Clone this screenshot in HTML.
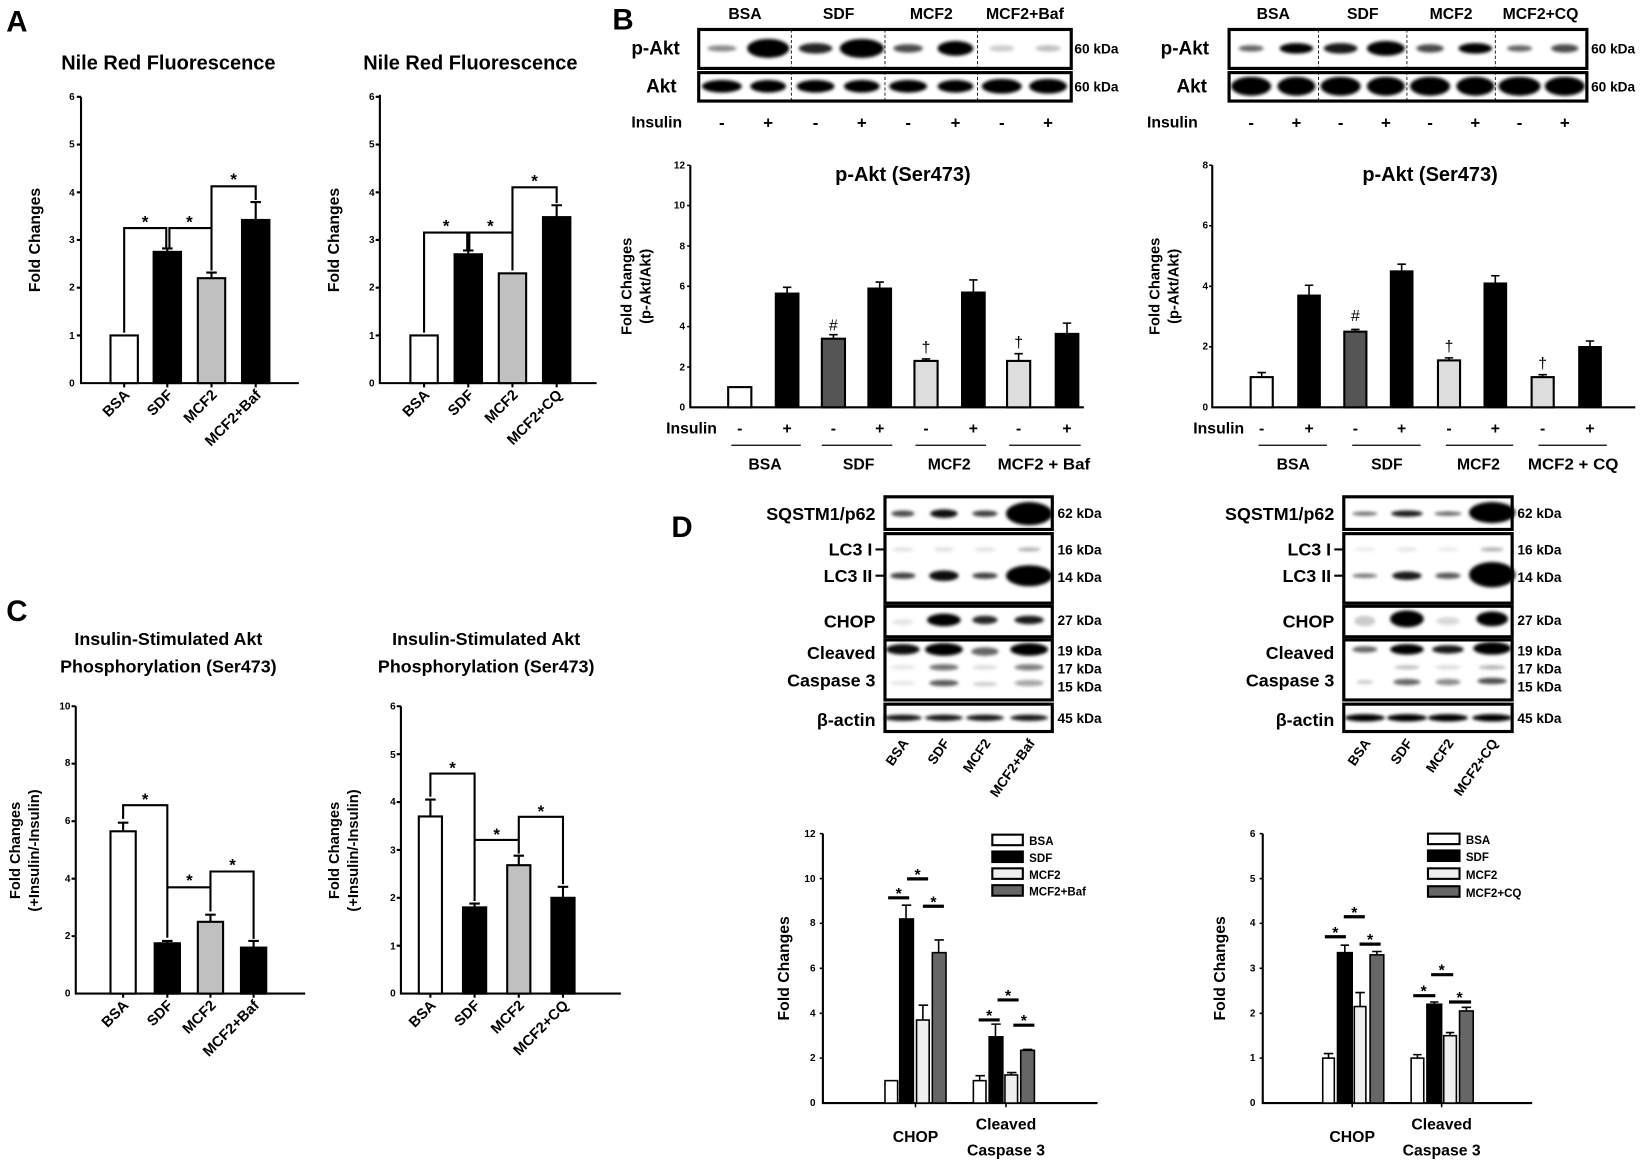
<!DOCTYPE html>
<html><head><meta charset="utf-8"><style>
html,body{margin:0;padding:0;background:#fff;}
svg{display:block;}
text{font-family:"Liberation Sans",sans-serif;fill:#000;}
.b{font-weight:bold;}
.n{font-family:"Liberation Sans Narrow","Liberation Sans",sans-serif;font-weight:bold;}
.t{font-size:9.5px;font-weight:bold;}
</style></head><body>
<svg width="1650" height="1162" viewBox="0 0 1568 1104" preserveAspectRatio="none" xmlns="http://www.w3.org/2000/svg">
<defs><filter id="bl" x="-50%" y="-100%" width="200%" height="300%"><feGaussianBlur stdDeviation="1.6"/></filter></defs>

<!-- ============ PANEL A LEFT ============ -->
<text x="6" y="30" class="b" font-size="28">A</text>
<text x="160" y="66" class="b" font-size="19" text-anchor="middle">Nile Red Fluorescence</text>
<text transform="translate(38,228) rotate(-90)" class="b" font-size="15" text-anchor="middle">Fold Changes</text>
<g class="t" text-anchor="end">
<text x="71" y="367">0</text><text x="71" y="322">1</text><text x="71" y="276">2</text><text x="71" y="231">3</text><text x="71" y="186">4</text><text x="71" y="140">5</text><text x="71" y="95">6</text>
</g>
<g stroke="#000" stroke-width="2" fill="none">
<path d="M77 92V364H284"/>
<path d="M73 92H77M73 137.3H77M73 182.7H77M73 228H77M73 273.3H77M73 318.7H77"/>
<path d="M118 364v4M159 364v4M201 364v4M243 364v4"/>
<rect x="105" y="318.7" width="26" height="45.3" fill="#fff"/>
<rect x="146" y="239.3" width="26" height="124.7" fill="#000"/>
<rect x="188" y="264.3" width="26" height="99.7" fill="#c0c0c0"/>
<rect x="230" y="209" width="26" height="155" fill="#000"/>
<path d="M159 239V236M154 236H164M201 264V259M196 259H206M243 209V192M238 192H248"/>
<path d="M118 316V216.7H158V237M161 237V216.7H201V257M201 216.7V177H243V190"/>
</g>
<g class="b" font-size="16" text-anchor="middle"><text x="138" y="216">*</text><text x="180" y="216">*</text><text x="222" y="176">*</text></g>
<g class="b" font-size="14" text-anchor="end">
<text transform="translate(124,376) rotate(-45)">BSA</text>
<text transform="translate(165,376) rotate(-45)">SDF</text>
<text transform="translate(207,376) rotate(-45)">MCF2</text>
<text transform="translate(249,376) rotate(-45)">MCF2+Baf</text>
</g>

<!-- ============ PANEL A RIGHT ============ -->
<text x="447" y="66" class="b" font-size="19" text-anchor="middle">Nile Red Fluorescence</text>
<text transform="translate(322,228) rotate(-90)" class="b" font-size="15" text-anchor="middle">Fold Changes</text>
<g class="t" text-anchor="end">
<text x="356" y="367">0</text><text x="356" y="322">1</text><text x="356" y="276">2</text><text x="356" y="231">3</text><text x="356" y="186">4</text><text x="356" y="140">5</text><text x="356" y="95">6</text>
</g>
<g stroke="#000" stroke-width="2" fill="none">
<path d="M361 90V364H567"/>
<path d="M357 92H361M357 137.3H361M357 182.7H361M357 228H361M357 273.3H361M357 318.7H361"/>
<path d="M403 364v4M445 364v4M487 364v4M529 364v4"/>
<rect x="390" y="318.7" width="26" height="45.3" fill="#fff"/>
<rect x="432" y="241.6" width="26" height="122.4" fill="#000"/>
<rect x="474" y="259.7" width="26" height="104.3" fill="#c0c0c0"/>
<rect x="516" y="206.3" width="26" height="157.7" fill="#000"/>
<path d="M445 241V238M440 238H450M529 206V195M524 195H534"/>
<path d="M403 316V221H444V239M446 239V221H487V257M487 221V178H529V193"/>
</g>
<g class="b" font-size="16" text-anchor="middle"><text x="424" y="220">*</text><text x="466" y="220">*</text><text x="508" y="177">*</text></g>
<g class="b" font-size="14" text-anchor="end">
<text transform="translate(409,376) rotate(-45)">BSA</text>
<text transform="translate(451,376) rotate(-45)">SDF</text>
<text transform="translate(493,376) rotate(-45)">MCF2</text>
<text transform="translate(535,376) rotate(-45)">MCF2+CQ</text>
</g>

<!-- ============ PANEL B BLOTS LEFT ============ -->
<text x="582" y="28" class="b" font-size="28">B</text>
<g class="n" font-size="15" text-anchor="middle">
<text x="708" y="18">BSA</text><text x="797" y="18">SDF</text><text x="885" y="18">MCF2</text><text x="974" y="18" textLength="74" lengthAdjust="spacingAndGlyphs">MCF2+Baf</text>
</g>
<g filter="url(#bl)" fill="#000">
<ellipse cx="686" cy="46" rx="14" ry="3" opacity=".45"/>
<ellipse cx="730" cy="46" rx="20" ry="9"/>
<ellipse cx="775" cy="46" rx="16" ry="5" opacity=".85"/>
<ellipse cx="819" cy="46" rx="21" ry="9"/>
<ellipse cx="863" cy="46" rx="14" ry="4" opacity=".7"/>
<ellipse cx="908" cy="46" rx="17" ry="7"/>
<ellipse cx="952" cy="46" rx="12" ry="3" opacity=".2"/>
<ellipse cx="996" cy="46" rx="12" ry="3" opacity=".25"/>
<ellipse cx="686" cy="82" rx="19" ry="6"/><ellipse cx="730" cy="82" rx="17" ry="6"/>
<ellipse cx="775" cy="82" rx="18" ry="6"/><ellipse cx="819" cy="82" rx="17" ry="6"/>
<ellipse cx="863" cy="82" rx="18" ry="6"/><ellipse cx="908" cy="82" rx="17" ry="6"/>
<ellipse cx="952" cy="82" rx="19" ry="7"/><ellipse cx="996" cy="82" rx="18" ry="7"/>
</g>
<g stroke="#000" fill="none">
<rect x="664" y="28" width="354" height="37" stroke-width="3"/>
<rect x="664" y="69" width="354" height="27" stroke-width="3"/>
<path d="M752 28V96M841 28V96M929 28V96" stroke-width="0.8" stroke-dasharray="3,2"/>
</g>
<g class="n" font-size="18"><text x="600" y="52">p-Akt</text><text x="614" y="88">Akt</text></g>
<g class="n" font-size="13"><text x="1021" y="51">60 kDa</text><text x="1021" y="87">60 kDa</text></g>
<g class="n" font-size="15"><text x="600" y="121">Insulin</text></g>
<g class="b" font-size="16" text-anchor="middle">
<text x="686" y="122">-</text><text x="730" y="122">+</text><text x="775" y="122">-</text><text x="819" y="122">+</text><text x="863" y="122">-</text><text x="908" y="122">+</text><text x="952" y="122">-</text><text x="996" y="122">+</text>
</g>

<!-- ============ PANEL B BLOTS RIGHT ============ -->
<g class="n" font-size="15" text-anchor="middle">
<text x="1210" y="18">BSA</text><text x="1295" y="18">SDF</text><text x="1379" y="18">MCF2</text><text x="1464" y="18" textLength="72" lengthAdjust="spacingAndGlyphs">MCF2+CQ</text>
</g>
<g filter="url(#bl)" fill="#000">
<ellipse cx="1189" cy="46" rx="12" ry="3" opacity=".6"/>
<ellipse cx="1232" cy="46" rx="16" ry="5"/>
<ellipse cx="1274" cy="46" rx="16" ry="5" opacity=".9"/>
<ellipse cx="1317" cy="46" rx="18" ry="7"/>
<ellipse cx="1359" cy="46" rx="13" ry="4" opacity=".7"/>
<ellipse cx="1402" cy="46" rx="16" ry="5"/>
<ellipse cx="1444" cy="46" rx="12" ry="3" opacity=".6"/>
<ellipse cx="1487" cy="46" rx="13" ry="4" opacity=".7"/>
<ellipse cx="1189" cy="82" rx="19" ry="9"/><ellipse cx="1232" cy="82" rx="18" ry="9"/>
<ellipse cx="1274" cy="82" rx="19" ry="9"/><ellipse cx="1317" cy="82" rx="18" ry="9"/>
<ellipse cx="1359" cy="82" rx="19" ry="9"/><ellipse cx="1402" cy="82" rx="18" ry="9"/>
<ellipse cx="1444" cy="82" rx="20" ry="9"/><ellipse cx="1487" cy="82" rx="19" ry="9"/>
</g>
<g stroke="#000" fill="none">
<rect x="1168" y="28" width="340" height="37" stroke-width="3"/>
<rect x="1168" y="69" width="340" height="27" stroke-width="3"/>
<path d="M1253 28V96M1337 28V96M1421 28V96" stroke-width="0.8" stroke-dasharray="3,2"/>
</g>
<g class="n" font-size="18"><text x="1103" y="52">p-Akt</text><text x="1118" y="88">Akt</text></g>
<g class="n" font-size="13"><text x="1512" y="51">60 kDa</text><text x="1512" y="87">60 kDa</text></g>
<g class="n" font-size="15"><text x="1090" y="121">Insulin</text></g>
<g class="b" font-size="16" text-anchor="middle">
<text x="1189" y="122">-</text><text x="1232" y="122">+</text><text x="1274" y="122">-</text><text x="1317" y="122">+</text><text x="1359" y="122">-</text><text x="1402" y="122">+</text><text x="1444" y="122">-</text><text x="1487" y="122">+</text>
</g>

<!-- ============ PANEL B CHART LEFT ============ -->
<text x="858" y="172" class="n" font-size="19" text-anchor="middle">p-Akt (Ser473)</text>
<text transform="translate(600,272) rotate(-90)" class="b" font-size="14" text-anchor="middle">Fold Changes</text>
<text transform="translate(618,272) rotate(-90)" class="b" font-size="14" text-anchor="middle">(p-Akt/Akt)</text>
<g class="t" text-anchor="end">
<text x="651" y="390">0</text><text x="651" y="352">2</text><text x="651" y="313">4</text><text x="651" y="275">6</text><text x="651" y="237">8</text><text x="651" y="198">10</text><text x="651" y="160">12</text>
</g>
<g stroke="#000" stroke-width="1.5" fill="none">
<path d="M656 157V387H1030" stroke-width="2"/>
<path d="M653 157H656M653 195.3H656M653 233.7H656M653 272H656M653 310.3H656M653 348.7H656"/>
<rect x="692" y="367.8" width="22" height="19.2" fill="#fff" stroke-width="2"/>
<rect x="737" y="278.7" width="22" height="108.3" fill="#000"/>
<rect x="781" y="321.8" width="22" height="65.2" fill="#555" stroke-width="2"/>
<rect x="825" y="273.9" width="22" height="113.1" fill="#000"/>
<rect x="869" y="342.9" width="22" height="44.1" fill="#ddd" stroke-width="2"/>
<rect x="914" y="277.7" width="22" height="109.3" fill="#000"/>
<rect x="957" y="342.9" width="22" height="44.1" fill="#ddd" stroke-width="2"/>
<rect x="1003" y="317" width="22" height="70" fill="#000"/>
<path d="M748 279V273M744 273H752M792 322V318M788 318H796M836 274V268M832 268H840M880 343V341M876 341H884M925 278V266M921 266H929M968 343V336M964 336H972M1014 317V307M1010 307H1018"/>
<path d="M695 423H761M781 423H848M870 423H937M959 423H1027" stroke-width="1.2"/>
</g>
<g font-size="15" text-anchor="middle"><text x="792" y="314">#</text><text x="880" y="335">†</text><text x="968" y="330">†</text></g>
<g class="n" font-size="15"><text x="633" y="412">Insulin</text></g>
<g class="b" font-size="15" text-anchor="middle">
<text x="703" y="412">-</text><text x="748" y="412">+</text><text x="792" y="412">-</text><text x="836" y="412">+</text><text x="880" y="412">-</text><text x="925" y="412">+</text><text x="968" y="412">-</text><text x="1014" y="412">+</text>
</g>
<g class="n" font-size="15" text-anchor="middle">
<text x="727" y="446">BSA</text><text x="816" y="446">SDF</text><text x="902" y="446">MCF2</text><text x="992" y="446" textLength="88" lengthAdjust="spacingAndGlyphs">MCF2 + Baf</text>
</g>

<!-- ============ PANEL B CHART RIGHT ============ -->
<text x="1359" y="172" class="n" font-size="19" text-anchor="middle">p-Akt (Ser473)</text>
<text transform="translate(1102,272) rotate(-90)" class="b" font-size="14" text-anchor="middle">Fold Changes</text>
<text transform="translate(1120,272) rotate(-90)" class="b" font-size="14" text-anchor="middle">(p-Akt/Akt)</text>
<g class="t" text-anchor="end">
<text x="1148" y="390">0</text><text x="1148" y="332">2</text><text x="1148" y="275">4</text><text x="1148" y="217">6</text><text x="1148" y="160">8</text>
</g>
<g stroke="#000" stroke-width="1.5" fill="none">
<path d="M1152 157V387H1554" stroke-width="2"/>
<path d="M1149 157H1152M1149 214.5H1152M1149 272H1152M1149 329.5H1152"/>
<rect x="1188.5" y="358.3" width="21" height="28.7" fill="#fff" stroke-width="2"/>
<rect x="1233.5" y="280.6" width="21" height="106.4" fill="#000"/>
<rect x="1277.5" y="315.1" width="21" height="71.9" fill="#555" stroke-width="2"/>
<rect x="1321.5" y="257.6" width="21" height="129.4" fill="#000"/>
<rect x="1366.5" y="342.4" width="21" height="44.6" fill="#ddd" stroke-width="2"/>
<rect x="1410.5" y="269.1" width="21" height="117.9" fill="#000"/>
<rect x="1455.5" y="358.3" width="21" height="28.7" fill="#ddd" stroke-width="2"/>
<rect x="1500.5" y="329.5" width="21" height="57.5" fill="#000"/>
<path d="M1199 358V354M1195 354H1203M1244 281V271M1240 271H1248M1288 315V313M1284 313H1292M1332 258V251M1328 251H1336M1377 342V340M1373 340H1381M1421 269V262M1417 262H1425M1466 358V356M1462 356H1470M1511 330V324M1507 324H1515"/>
<path d="M1196 423H1261M1285 423H1350M1374 423H1438M1462 423H1527" stroke-width="1.2"/>
</g>
<g font-size="15" text-anchor="middle"><text x="1288" y="305">#</text><text x="1377" y="334">†</text><text x="1466" y="350">†</text></g>
<g class="n" font-size="15"><text x="1134" y="412">Insulin</text></g>
<g class="b" font-size="15" text-anchor="middle">
<text x="1199" y="412">-</text><text x="1244" y="412">+</text><text x="1288" y="412">-</text><text x="1332" y="412">+</text><text x="1377" y="412">-</text><text x="1421" y="412">+</text><text x="1466" y="412">-</text><text x="1511" y="412">+</text>
</g>
<g class="n" font-size="15" text-anchor="middle">
<text x="1229" y="446">BSA</text><text x="1318" y="446">SDF</text><text x="1405" y="446">MCF2</text><text x="1495" y="446" textLength="86" lengthAdjust="spacingAndGlyphs">MCF2 + CQ</text>
</g>

<!-- ============ PANEL C LEFT ============ -->
<text x="6" y="590" class="b" font-size="28">C</text>
<g class="n" font-size="17" text-anchor="middle"><text x="160" y="613">Insulin-Stimulated Akt</text><text x="160" y="639">Phosphorylation (Ser473)</text></g>
<text transform="translate(19,808) rotate(-90)" class="b" font-size="14" text-anchor="middle">Fold Changes</text>
<text transform="translate(37,808) rotate(-90)" class="b" font-size="14" text-anchor="middle">(+Insulin/-Insulin)</text>
<g class="t" text-anchor="end">
<text x="67" y="947">0</text><text x="67" y="892">2</text><text x="67" y="838">4</text><text x="67" y="783">6</text><text x="67" y="728">8</text><text x="67" y="674">10</text>
</g>
<g stroke="#000" stroke-width="2" fill="none">
<path d="M72 671V944H290"/>
<path d="M68 671H72M68 725.6H72M68 780.2H72M68 834.8H72M68 889.4H72"/>
<path d="M117 944v4M159 944v4M200 944v4M241 944v4"/>
<rect x="105" y="789.8" width="24" height="154.2" fill="#fff"/>
<rect x="147" y="896.2" width="24" height="47.8" fill="#000"/>
<rect x="188" y="875.8" width="24" height="68.2" fill="#c0c0c0"/>
<rect x="229" y="900.3" width="24" height="43.7" fill="#000"/>
<path d="M117 790V781.6M112 781.6H122M159 896V894M154 894H164M200 876V869M195 869H205M241 900V894M236 894H246"/>
<path d="M117 778V765H159V891M159 891V843H200V866M200 843V828H241V892"/>
</g>
<g class="b" font-size="16" text-anchor="middle"><text x="138" y="765">*</text><text x="180" y="842">*</text><text x="221" y="827">*</text></g>
<g class="b" font-size="14" text-anchor="end">
<text transform="translate(123,956) rotate(-45)">BSA</text>
<text transform="translate(165,956) rotate(-45)">SDF</text>
<text transform="translate(206,956) rotate(-45)">MCF2</text>
<text transform="translate(247,956) rotate(-45)">MCF2+Baf</text>
</g>

<!-- ============ PANEL C RIGHT ============ -->
<g class="n" font-size="17" text-anchor="middle"><text x="462" y="613">Insulin-Stimulated Akt</text><text x="462" y="639">Phosphorylation (Ser473)</text></g>
<text transform="translate(322,808) rotate(-90)" class="b" font-size="14" text-anchor="middle">Fold Changes</text>
<text transform="translate(340,808) rotate(-90)" class="b" font-size="14" text-anchor="middle">(+Insulin/-Insulin)</text>
<g class="t" text-anchor="end">
<text x="376" y="947">0</text><text x="376" y="902">1</text><text x="376" y="856">2</text><text x="376" y="811">3</text><text x="376" y="765">4</text><text x="376" y="720">5</text><text x="376" y="674">6</text>
</g>
<g stroke="#000" stroke-width="2" fill="none">
<path d="M381 671V944H590"/>
<path d="M377 671H381M377 716.5H381M377 762H381M377 807.5H381M377 853H381M377 898.5H381"/>
<path d="M409 944v4M451 944v4M493 944v4M535 944v4"/>
<rect x="398" y="775.7" width="22" height="168.3" fill="#fff"/>
<rect x="440" y="862.1" width="22" height="81.9" fill="#000"/>
<rect x="482" y="822" width="22" height="122" fill="#c0c0c0"/>
<rect x="524" y="853" width="22" height="91" fill="#000"/>
<path d="M409 776V759.7M404 759.7H414M451 862V858.5M446 858.5H456M493 822V813M488 813H498M535 853V842.5M530 842.5H540"/>
<path d="M409 757V735H451V856M451 856V798H493V811M493 798V776H535V840"/>
</g>
<g class="b" font-size="16" text-anchor="middle"><text x="430" y="735">*</text><text x="472" y="798">*</text><text x="514" y="776">*</text></g>
<g class="b" font-size="14" text-anchor="end">
<text transform="translate(415,956) rotate(-45)">BSA</text>
<text transform="translate(457,956) rotate(-45)">SDF</text>
<text transform="translate(499,956) rotate(-45)">MCF2</text>
<text transform="translate(541,956) rotate(-45)">MCF2+CQ</text>
</g>

<!-- ============ PANEL D BLOTS LEFT ============ -->
<text x="638" y="510" class="b" font-size="28">D</text>
<g filter="url(#bl)" fill="#000">
<ellipse cx="858" cy="488" rx="11" ry="3" opacity=".7"/><ellipse cx="897" cy="488" rx="13" ry="4" opacity=".95"/><ellipse cx="936" cy="488" rx="12" ry="3" opacity=".75"/><ellipse cx="978" cy="488" rx="22" ry="11"/>
<ellipse cx="858" cy="522" rx="10" ry="2" opacity=".12"/><ellipse cx="897" cy="522" rx="10" ry="2" opacity=".12"/><ellipse cx="936" cy="522" rx="10" ry="2" opacity=".12"/><ellipse cx="978" cy="522" rx="11" ry="2" opacity=".3"/>
<ellipse cx="858" cy="547" rx="12" ry="3" opacity=".75"/><ellipse cx="897" cy="547" rx="14" ry="5" opacity=".95"/><ellipse cx="936" cy="547" rx="12" ry="3" opacity=".75"/><ellipse cx="978" cy="547" rx="22" ry="10"/>
<ellipse cx="858" cy="591" rx="10" ry="3" opacity=".1"/><ellipse cx="897" cy="589" rx="16" ry="6"/><ellipse cx="936" cy="589" rx="12" ry="4" opacity=".85"/><ellipse cx="978" cy="589" rx="14" ry="4" opacity=".9"/>
<ellipse cx="858" cy="617" rx="16" ry="5" opacity=".95"/><ellipse cx="897" cy="617" rx="18" ry="6"/><ellipse cx="936" cy="619" rx="13" ry="4" opacity=".6"/><ellipse cx="978" cy="617" rx="18" ry="6"/>
<ellipse cx="858" cy="634" rx="12" ry="2" opacity=".1"/><ellipse cx="897" cy="634" rx="14" ry="3" opacity=".55"/><ellipse cx="936" cy="634" rx="12" ry="2" opacity=".15"/><ellipse cx="978" cy="634" rx="14" ry="3" opacity=".5"/>
<ellipse cx="858" cy="649" rx="12" ry="2" opacity=".1"/><ellipse cx="897" cy="649" rx="14" ry="3" opacity=".65"/><ellipse cx="936" cy="650" rx="12" ry="2" opacity=".2"/><ellipse cx="978" cy="649" rx="14" ry="3" opacity=".35"/>
<ellipse cx="858" cy="682" rx="18" ry="3" opacity=".9"/><ellipse cx="897" cy="682" rx="18" ry="3" opacity=".9"/><ellipse cx="936" cy="682" rx="18" ry="3" opacity=".9"/><ellipse cx="978" cy="682" rx="18" ry="3" opacity=".9"/>
</g>
<g stroke="#000" fill="none" stroke-width="3">
<rect x="841" y="472" width="159" height="31"/>
<rect x="841" y="507" width="159" height="66"/>
<rect x="841" y="576" width="159" height="29"/>
<rect x="841" y="608" width="159" height="57"/>
<rect x="841" y="669" width="159" height="26"/>
<path d="M832 522H840M832 547H840" stroke-width="2"/>
</g>
<g class="n" font-size="17" text-anchor="end">
<text x="832" y="494">SQSTM1/p62</text><text x="829" y="528">LC3 I</text><text x="829" y="553">LC3 II</text>
<text x="832" y="596">CHOP</text><text x="832" y="626">Cleaved</text><text x="832" y="652">Caspase 3</text><text x="832" y="690">β-actin</text>
</g>
<g class="n" font-size="13">
<text x="1005" y="492">62 kDa</text><text x="1005" y="527">16 kDa</text><text x="1005" y="553">14 kDa</text><text x="1005" y="594">27 kDa</text>
<text x="1005" y="623">19 kDa</text><text x="1005" y="640">17 kDa</text><text x="1005" y="657">15 kDa</text><text x="1005" y="687">45 kDa</text>
</g>
<g class="b" font-size="13" text-anchor="end">
<text transform="translate(864,706) rotate(-55)">BSA</text>
<text transform="translate(903,706) rotate(-55)">SDF</text>
<text transform="translate(942,706) rotate(-55)">MCF2</text>
<text transform="translate(984,706) rotate(-55)">MCF2+Baf</text>
</g>

<!-- ============ PANEL D BLOTS RIGHT ============ -->
<g filter="url(#bl)" fill="#000">
<ellipse cx="1297" cy="488" rx="12" ry="2" opacity=".55"/><ellipse cx="1337" cy="488" rx="15" ry="3" opacity=".9"/><ellipse cx="1376" cy="488" rx="13" ry="2" opacity=".6"/><ellipse cx="1418" cy="487" rx="22" ry="10"/>
<ellipse cx="1297" cy="522" rx="10" ry="2" opacity=".08"/><ellipse cx="1337" cy="522" rx="10" ry="2" opacity=".1"/><ellipse cx="1376" cy="522" rx="10" ry="2" opacity=".08"/><ellipse cx="1418" cy="522" rx="11" ry="2" opacity=".3"/>
<ellipse cx="1297" cy="547" rx="12" ry="2" opacity=".55"/><ellipse cx="1337" cy="547" rx="14" ry="4" opacity=".9"/><ellipse cx="1376" cy="547" rx="12" ry="3" opacity=".65"/><ellipse cx="1418" cy="546" rx="22" ry="12"/>
<ellipse cx="1297" cy="590" rx="10" ry="5" opacity=".2"/><ellipse cx="1337" cy="588" rx="16" ry="8"/><ellipse cx="1376" cy="590" rx="11" ry="4" opacity=".15"/><ellipse cx="1418" cy="588" rx="15" ry="7"/>
<ellipse cx="1297" cy="617" rx="12" ry="3" opacity=".6"/><ellipse cx="1337" cy="617" rx="16" ry="5"/><ellipse cx="1376" cy="617" rx="15" ry="4" opacity=".9"/><ellipse cx="1418" cy="616" rx="18" ry="6"/>
<ellipse cx="1337" cy="634" rx="12" ry="2" opacity=".25"/><ellipse cx="1376" cy="634" rx="12" ry="2" opacity=".15"/><ellipse cx="1418" cy="634" rx="13" ry="2" opacity=".3"/>
<ellipse cx="1297" cy="648" rx="8" ry="2" opacity=".2"/><ellipse cx="1337" cy="648" rx="13" ry="3" opacity=".6"/><ellipse cx="1376" cy="648" rx="12" ry="3" opacity=".45"/><ellipse cx="1418" cy="647" rx="14" ry="3" opacity=".7"/>
<ellipse cx="1297" cy="682" rx="19" ry="3.5"/><ellipse cx="1337" cy="682" rx="19" ry="3.5"/><ellipse cx="1376" cy="682" rx="19" ry="3.5"/><ellipse cx="1418" cy="682" rx="19" ry="3.5"/>
</g>
<g stroke="#000" fill="none" stroke-width="3">
<rect x="1277" y="472" width="160" height="31"/>
<rect x="1277" y="507" width="160" height="66"/>
<rect x="1277" y="576" width="160" height="29"/>
<rect x="1277" y="608" width="160" height="57"/>
<rect x="1277" y="669" width="160" height="26"/>
<path d="M1268 522H1276M1268 547H1276" stroke-width="2"/>
</g>
<g class="n" font-size="17" text-anchor="end">
<text x="1268" y="494">SQSTM1/p62</text><text x="1265" y="528">LC3 I</text><text x="1265" y="553">LC3 II</text>
<text x="1268" y="596">CHOP</text><text x="1268" y="626">Cleaved</text><text x="1268" y="652">Caspase 3</text><text x="1268" y="690">β-actin</text>
</g>
<g class="n" font-size="13">
<text x="1442" y="492">62 kDa</text><text x="1442" y="527">16 kDa</text><text x="1442" y="553">14 kDa</text><text x="1442" y="594">27 kDa</text>
<text x="1442" y="623">19 kDa</text><text x="1442" y="640">17 kDa</text><text x="1442" y="657">15 kDa</text><text x="1442" y="687">45 kDa</text>
</g>
<g class="b" font-size="13" text-anchor="end">
<text transform="translate(1303,706) rotate(-55)">BSA</text>
<text transform="translate(1343,706) rotate(-55)">SDF</text>
<text transform="translate(1382,706) rotate(-55)">MCF2</text>
<text transform="translate(1424,706) rotate(-55)">MCF2+CQ</text>
</g>

<!-- ============ PANEL D CHART LEFT ============ -->
<text transform="translate(750,920) rotate(-90)" class="b" font-size="15" text-anchor="middle">Fold Changes</text>
<g class="t" text-anchor="end">
<text x="775" y="1051">0</text><text x="775" y="1008">2</text><text x="775" y="966">4</text><text x="775" y="923">6</text><text x="775" y="880">8</text><text x="775" y="838">10</text><text x="775" y="795">12</text>
</g>
<g stroke="#000" stroke-width="1.5" fill="none">
<path d="M782 792V1048H1043" stroke-width="2"/>
<path d="M779 792H782M779 834.7H782M779 877.3H782M779 920H782M779 962.7H782M779 1005.3H782"/>
<path d="M870 1048v4M956 1048v4"/>
<rect x="841" y="1026.7" width="12" height="21.3" fill="#fff"/>
<rect x="855" y="873.1" width="13" height="174.9" fill="#000"/>
<rect x="871" y="969.1" width="12" height="78.9" fill="#eee"/>
<rect x="886" y="905.1" width="13" height="142.9" fill="#666"/>
<rect x="925" y="1026.7" width="12" height="21.3" fill="#fff"/>
<rect x="940" y="985.1" width="13" height="62.9" fill="#000"/>
<rect x="955" y="1021.3" width="12" height="26.7" fill="#eee"/>
<rect x="970" y="997.9" width="13" height="50.1" fill="#666"/>
<path d="M861 873V860M857 860H866M877 969V955M873 955H882M892 905V893M888 893H897M931 1027V1022M927 1022H936M946 985V973M942 973H951M961 1021V1019M957 1019H966M976 998V997M972 997H981"/>
<path d="M844 853H864M862 835H882M877 861H897M930 969H950M948 950H968M963 974H983" stroke-width="3"/>
</g>
<g class="b" font-size="15" text-anchor="middle">
<text x="854" y="854">*</text><text x="872" y="836">*</text><text x="887" y="862">*</text>
<text x="940" y="970">*</text><text x="958" y="951">*</text><text x="973" y="975">*</text>
</g>
<g stroke="#000" stroke-width="2">
<rect x="943" y="793" width="29" height="10" fill="#fff"/>
<rect x="943" y="809" width="29" height="10" fill="#000"/>
<rect x="943" y="825" width="29" height="10" fill="#eee"/>
<rect x="943" y="841" width="29" height="10" fill="#666"/>
</g>
<g class="b" font-size="11">
<text x="978" y="803">BSA</text><text x="978" y="819">SDF</text><text x="978" y="835">MCF2</text><text x="978" y="851">MCF2+Baf</text>
</g>
<g class="n" font-size="15" text-anchor="middle">
<text x="870" y="1085">CHOP</text><text x="956" y="1073">Cleaved</text><text x="956" y="1098">Caspase 3</text>
</g>

<!-- ============ PANEL D CHART RIGHT ============ -->
<text transform="translate(1164,920) rotate(-90)" class="b" font-size="15" text-anchor="middle">Fold Changes</text>
<g class="t" text-anchor="end">
<text x="1193" y="1051">0</text><text x="1193" y="1008">1</text><text x="1193" y="966">2</text><text x="1193" y="923">3</text><text x="1193" y="880">4</text><text x="1193" y="838">5</text><text x="1193" y="795">6</text>
</g>
<g stroke="#000" stroke-width="1.5" fill="none">
<path d="M1200 792V1048H1456" stroke-width="2"/>
<path d="M1197 792H1200M1197 834.7H1200M1197 877.3H1200M1197 920H1200M1197 962.7H1200M1197 1005.3H1200"/>
<path d="M1285 1048v4M1370 1048v4"/>
<rect x="1257" y="1005.3" width="11" height="42.7" fill="#fff"/>
<rect x="1271" y="905.1" width="14" height="142.9" fill="#000"/>
<rect x="1287" y="956.3" width="11" height="91.7" fill="#eee"/>
<rect x="1302" y="907.2" width="13" height="140.8" fill="#666"/>
<rect x="1341" y="1005.3" width="12" height="42.7" fill="#fff"/>
<rect x="1356" y="954.1" width="14" height="93.9" fill="#000"/>
<rect x="1372" y="984" width="12" height="64" fill="#eee"/>
<rect x="1387" y="960.5" width="13" height="87.5" fill="#666"/>
<path d="M1262.5 1005V1001M1258 1001H1267M1278 905V898M1274 898H1282M1292.5 956V943M1288 943H1297M1308.5 907V904M1304 904H1313M1347 1005V1002M1343 1002H1351M1363 954V952M1359 952H1367M1378 984V981M1374 981H1382M1393.5 960V957M1389 957H1398"/>
<path d="M1259 890H1279M1277 871H1297M1292 897H1312M1343 946H1364M1360 926H1381M1377 952H1398" stroke-width="3"/>
</g>
<g class="b" font-size="15" text-anchor="middle">
<text x="1269" y="891">*</text><text x="1287" y="872">*</text><text x="1302" y="898">*</text>
<text x="1353" y="947">*</text><text x="1370" y="927">*</text><text x="1387" y="953">*</text>
</g>
<g stroke="#000" stroke-width="2">
<rect x="1357" y="792" width="30" height="10" fill="#fff"/>
<rect x="1357" y="808" width="30" height="10" fill="#000"/>
<rect x="1357" y="825" width="30" height="10" fill="#eee"/>
<rect x="1357" y="842" width="30" height="10" fill="#666"/>
</g>
<g class="b" font-size="11">
<text x="1393" y="802">BSA</text><text x="1393" y="818">SDF</text><text x="1393" y="835">MCF2</text><text x="1393" y="852">MCF2+CQ</text>
</g>
<g class="n" font-size="15" text-anchor="middle">
<text x="1285" y="1085">CHOP</text><text x="1370" y="1073">Cleaved</text><text x="1370" y="1098">Caspase 3</text>
</g>
</svg>
</body></html>
